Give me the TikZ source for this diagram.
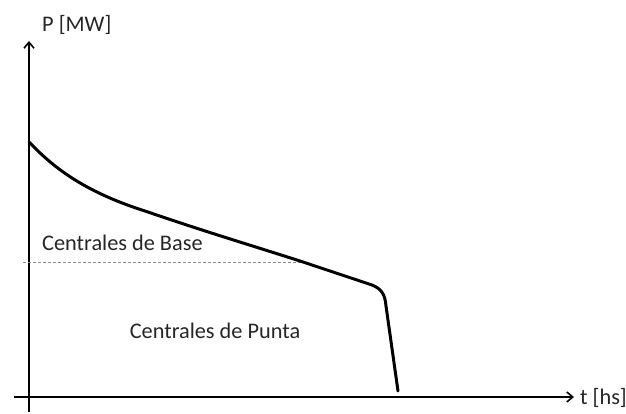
\documentclass[tikz,border=0pt]{standalone}
\usepackage{fontspec}
\setmainfont{Carlito}
\usetikzlibrary{arrows.meta}
\begin{document}
\begin{tikzpicture}[x=1pt,y=-1pt,
  axis/.style={line width=1.8pt,-{Straight Barb[length=6pt,width=10pt,line width=1.6pt]}},
  curve/.style={line width=3pt,line cap=round,line join=round},
  guide/.style={black!45,dash pattern=on 3pt off 2pt,line width=0.9pt},
  lbl/.style={font=\fontsize{22.3}{25}\selectfont,inner sep=0pt,text=black!85}]
\useasboundingbox (0,0) rectangle (626,414);
\coordinate (ybot) at (29,412);
\coordinate (ytop) at (29,41);
\coordinate (xl) at (14,397);
\coordinate (xr) at (574,397);
\draw[axis] (ybot) -- (ytop);
\draw[axis] (xl) -- (xr);
\node[lbl,anchor=west] (pl) at (42,25) {P [MW]};
\node[lbl,anchor=west] (tl) at (580,398) {t [hs]};
\coordinate (d1) at (23,262);
\coordinate (d2) at (302,262);
\draw[guide] (d1) -- (d2);
\coordinate (c0) at (29,142);
\coordinate (c1) at (145,211);
\coordinate (c2) at (300,261);
\coordinate (c3) at (372,285);
\coordinate (c4) at (398,391);
\draw[curve] (c0) .. controls (52,166) and (82,191) .. (c1)
  .. controls (200,230) and (250,245) .. (c2) -- (c3)
  .. controls (382,289) and (385,295) .. (386,306) -- (c4);
\node[lbl,anchor=west] (base) at (42,243) {Centrales de Base};
\node[lbl] (punta) at (215,331) {Centrales de Punta};
\end{tikzpicture}
\end{document}
